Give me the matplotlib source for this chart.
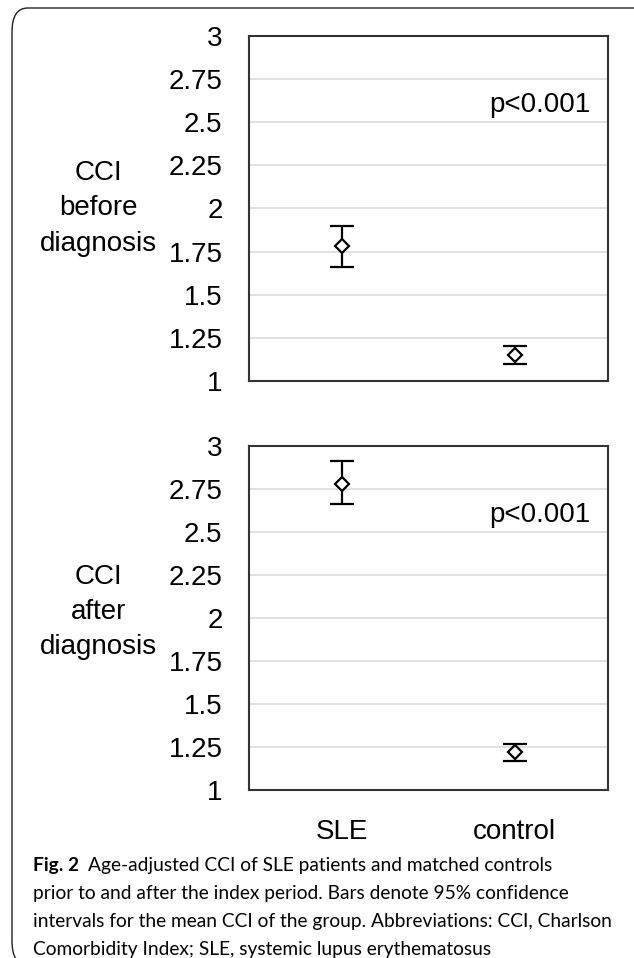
import matplotlib
matplotlib.use("Agg")
import matplotlib.pyplot as plt
from matplotlib.patches import FancyBboxPatch
import numpy as np

# data
groups = ["SLE", "control"]
before_mean = [1.78, 1.15]
before_lo = [1.66, 1.10]
before_hi = [1.90, 1.20]
after_mean = [2.78, 1.22]
after_lo = [2.66, 1.17]
after_hi = [2.91, 1.27]
yticks = [1, 1.25, 1.5, 1.75, 2, 2.25, 2.5, 2.75, 3]
ytick_labels = ["1", "1.25", "1.5", "1.75", "2", "2.25", "2.5", "2.75", "3"]
panel_labels = ["CCI\nbefore\ndiagnosis", "CCI\nafter\ndiagnosis"]
p_text = "p<0.001"

plt.rcParams["font.family"] = ["Liberation Sans", "DejaVu Sans"]

W, H = 634, 958
FS = 20
fig = plt.figure(figsize=(W / 100, H / 100), dpi=100)

# rounded frame around the figure (runs off the right/bottom edge)
frame = FancyBboxPatch((12 / W, 1 - 965 / H), 640 / W, 957 / H,
                       boxstyle="round,pad=0,rounding_size=0.025",
                       transform=fig.transFigure, fill=False,
                       edgecolor="#222222", linewidth=1.0, clip_on=False)
fig.patches.append(frame)


def panel(rect, mean, lo, hi, label, label_y, show_x):
    ax = fig.add_axes(rect)
    x = np.arange(1, len(groups) + 1)
    mean = np.array(mean)
    err = [mean - np.array(lo), np.array(hi) - mean]
    ax.errorbar(x, mean, yerr=err, fmt="D", color="black", mfc="white",
                mec="black", ms=7, mew=1.6, elinewidth=1.6,
                capsize=8.5, capthick=1.6, zorder=3)
    ax.set_xlim(0.46, 2.54)
    ax.set_ylim(1, 3)
    ax.set_yticks(yticks)
    ax.set_yticklabels(ytick_labels, fontsize=FS)
    ax.yaxis.grid(True, color="#d9d9d9", linewidth=1.1)
    ax.set_axisbelow(True)
    ax.tick_params(axis="y", length=0, pad=19, colors="black")
    ax.tick_params(axis="x", length=0, pad=21, colors="black")
    ax.set_xticks(x)
    if show_x:
        ax.set_xticklabels(groups, fontsize=FS)
    else:
        ax.set_xticklabels([])
    for s in ax.spines.values():
        s.set_color("#333333")
        s.set_linewidth(1.5)
    ax.text(-0.42, label_y, label, transform=ax.transAxes, fontsize=FS,
            ha="center", va="center", linespacing=1.46)
    ax.text(0.81, 0.8, p_text, transform=ax.transAxes, fontsize=FS,
            ha="center", va="center")
    return ax


panel([249 / W, 1 - 381 / H, 359 / W, 345 / H],
      before_mean, before_lo, before_hi, panel_labels[0], 0.5, False)
panel([249 / W, 1 - 790 / H, 359 / W, 344 / H],
      after_mean, after_lo, after_hi, panel_labels[1], 0.517, True)

# caption
cap_font = ["Lato", "DejaVu Sans"]
cap_lines = [
    "Age-adjusted CCI of SLE patients and matched controls",
    "prior to and after the index period. Bars denote 95% confidence",
    "intervals for the mean CCI of the group. Abbreviations: CCI, Charlson",
    "Comorbidity Index; SLE, systemic lupus erythematosus",
]
cap_y = [865, 893, 922, 950]
cap_size = 13.8
fig.canvas.draw()
r = fig.canvas.get_renderer()
t = fig.text(33 / W, 1 - cap_y[0] / H, "Fig. 2", fontsize=cap_size,
             fontweight="bold", family=cap_font, va="center")
bb = t.get_window_extent(renderer=r)
fig.text((bb.x1 + 9) / W, 1 - cap_y[0] / H, cap_lines[0], fontsize=cap_size,
         family=cap_font, va="center")
for line, yy in zip(cap_lines[1:], cap_y[1:]):
    fig.text(33 / W, 1 - yy / H, line, fontsize=cap_size, family=cap_font,
             va="center")

fig.savefig("out.png", dpi=100)
